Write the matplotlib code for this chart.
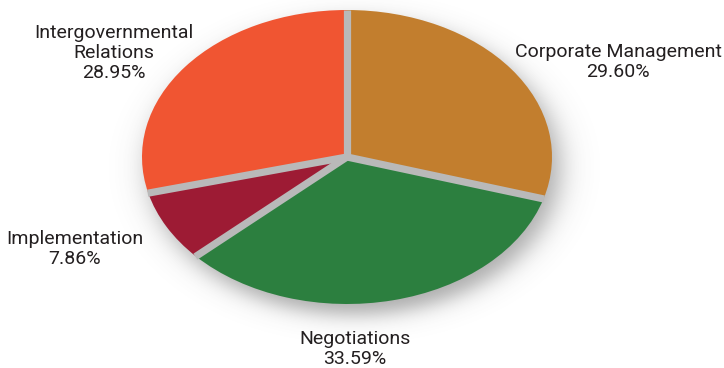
import numpy as np
import matplotlib
matplotlib.use("Agg")
import matplotlib.pyplot as plt

# budget shares by branch, clockwise from 12 o'clock
labels = ["Corporate Management", "Negotiations", "Implementation", "Intergovernmental\nRelations"]
shares = [29.60, 33.59, 7.86, 28.95]
colors = ["#C27E2E", "#2C7F3F", "#9D1B34", "#F05532"]

plt.rcParams["font.family"] = ["Roboto", "DejaVu Sans"]

W, H = 724, 368
fig = plt.figure(figsize=(W / 100, H / 100), dpi=100)

# background axes in pixel units (y down) for shadow and labels
bg = fig.add_axes([0, 0, 1, 1])
bg.set_xlim(0, W)
bg.set_ylim(H, 0)
bg.axis("off")

cx, cy, rx, ry = 347, 157, 205, 147

# soft drop shadow under the pie
yy, xx = np.mgrid[0:H, 0:W]
d = np.sqrt(((xx - cx - 7) / rx) ** 2 + ((yy - cy - 10) / ry) ** 2)
dist = (d - 1) * 170
alpha = 0.5 / (1 + np.exp(dist / 7))
shadow = np.zeros((H, W, 4))
shadow[..., :3] = 0.33
shadow[..., 3] = alpha
bg.imshow(shadow, extent=(0, W, H, 0), interpolation="bilinear", zorder=0)

# pie axes stretched so the circle becomes an ellipse
ax = fig.add_axes([(cx - rx) / W, (H - cy - ry) / H, 2 * rx / W, 2 * ry / H])
ax.pie(shares, colors=colors, startangle=90, counterclock=False, radius=1,
       wedgeprops=dict(linewidth=0))
ax.set_aspect("auto")
ax.set_xlim(-1, 1)
ax.set_ylim(-1, 1)
ax.axis("off")

# grey separators along the slice boundaries
bounds = 90 - 360 * np.cumsum([0] + shares[:-1]) / sum(shares)
for a in np.radians(bounds):
    ax.plot([0, np.cos(a) * 1.003], [0, np.sin(a) * 1.003], color="#b9b9b9",
            lw=5.2, solid_capstyle="butt", zorder=5)

txt = dict(ha="center", va="center", fontsize=14, color="#231f20", linespacing=1.15)
label_pos = [(618, 62), (355, 349), (75, 249), (114, 53)]
for name, val, (lx, ly) in zip(labels, shares, label_pos):
    bg.text(lx, ly, f"{name}\n{val:.2f}%", **txt)

fig.savefig("out.png", dpi=100, facecolor="white")
